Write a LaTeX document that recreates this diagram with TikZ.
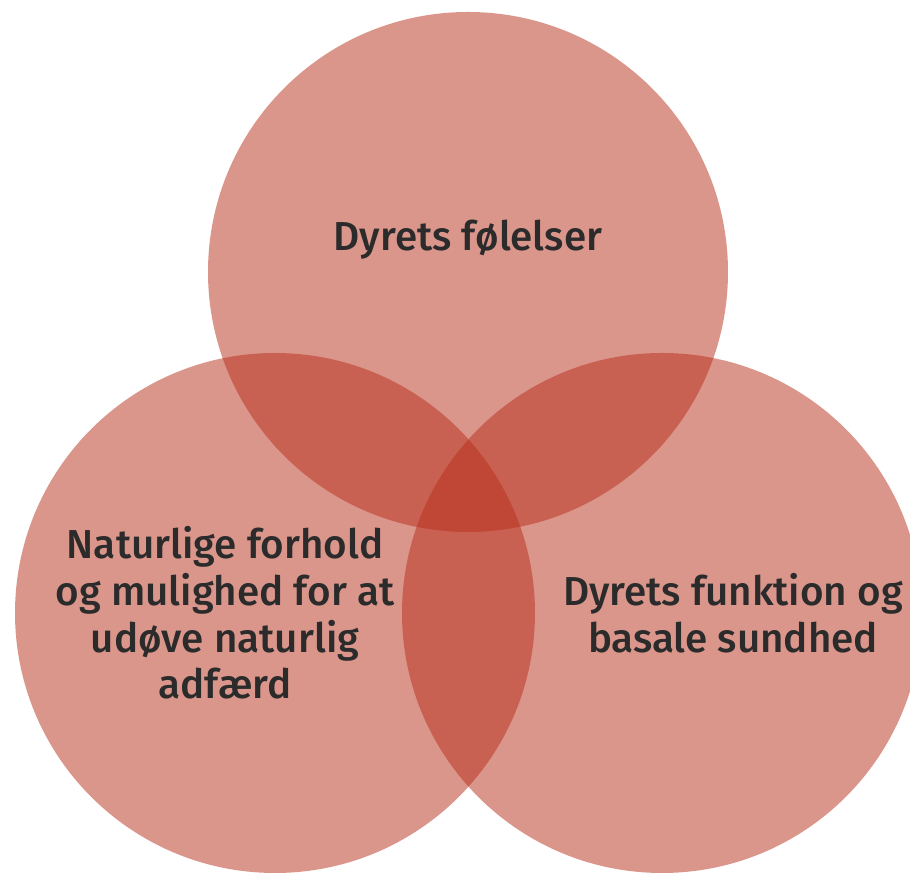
\documentclass[tikz,border=0pt]{standalone}
\usepackage{fontspec}
\setmainfont{Fira Sans}[UprightFont=* Medium]
\usepackage{tikz}
\usetikzlibrary{positioning}

\definecolor{vennred}{RGB}{183,45,25}
\definecolor{venntext}{RGB}{43,43,43}

\tikzset{
    venn/.style={circle, fill=vennred, fill opacity=0.5, minimum size=10.4cm, inner sep=0pt},
    venntxt/.style={text=venntext, align=center, font=\fontsize{23}{26.5}\selectfont}
}

\begin{document}
\begin{tikzpicture}
    \useasboundingbox (0,0) rectangle (18.2,17.5);
    \clip (0,0) rectangle (18.2,17.5);

    \node [venn] (top) at (9.36,12.06) {};

    % bottom circles
    \node [venn, on grid, below left=6.82cm and 3.86cm of top] (left) {};
    \node [venn, on grid, below right=6.82cm and 3.88cm of top] (right) {};

    % labels
    \node [venntxt, on grid, above=0.64cm of top] (lfeel) {Dyrets følelser};
    \node [venntxt, on grid, left=1.0cm of left] (lnat) {Naturlige forhold\\og mulighed for at\\udøve naturlig\\adfærd};
    \node [venntxt, on grid, right=1.42cm of right] (lfunc) {Dyrets funktion og\\basale sundhed};
\end{tikzpicture}
\end{document}
